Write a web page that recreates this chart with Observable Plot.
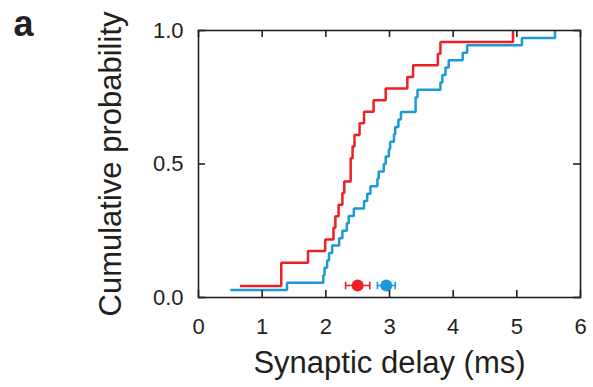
<!DOCTYPE html>
<html><head><meta charset="utf-8">
<script src="https://cdn.jsdelivr.net/npm/d3@7"></script>
<script src="https://cdn.jsdelivr.net/npm/@observablehq/plot@0.6"></script>
<style>html,body{margin:0;padding:0;background:#fff;} svg{display:block}</style>
</head><body><div id="chart"></div>
<script>
// ---- data ----
const panelLabel = "a";
const xTitle = "Synaptic delay (ms)";
const yTitle = "Cumulative probability";
const xTicks = [0, 1, 2, 3, 4, 5, 6];
const yTicks = [0, 0.5, 1];
const seriesNames = ["group 1", "group 2"];
const seriesColors = ["#ed1f27", "#1b9ad6"];
const redDelays = [0.65, 1.30, 1.30, 1.72, 1.99, 2.12, 2.15, 2.20, 2.26, 2.29, 2.39, 2.39,
  2.42, 2.45, 2.53, 2.60, 2.75, 2.94, 3.28, 3.37, 3.76, 3.80, 4.94];
const blueDelays = [0.50, 1.39, 1.96, 1.98, 2.02, 2.05, 2.10, 2.21, 2.26, 2.33, 2.36, 2.44,
  2.60, 2.65, 2.70, 2.81, 2.83, 2.91, 2.94, 2.99, 3.01, 3.07, 3.09, 3.14, 3.18, 3.41,
  3.41, 3.44, 3.80, 3.83, 3.88, 3.93, 4.15, 4.22, 5.08, 5.60];
const meanDelay = [2.50, 2.95];
const semDelay = [0.19, 0.14];
const markerLevel = 0.045;

// ---- build tables ----
function cdf(values, name) {
  const s = values.slice().sort((a, b) => a - b);
  return s.map((v, i) => ({series: name, x: v, p: (i + 1) / s.length}));
}
const steps = [...cdf(redDelays, seriesNames[0]), ...cdf(blueDelays, seriesNames[1])];
const summary = seriesNames.map((n, i) => ({series: n, mean: meanDelay[i], sem: semDelay[i], level: markerLevel}));

const W = 593, H = 387;
const mL = 198, mR = 13, mT = 30, mB = 90;
const plotW = W - mL - mR, plotH = H - mT - mB;
const ink = "#231f20";
const tickLen = 7;

const capSymbol = {
  draw(ctx, size) {
    const r = Math.sqrt(size / Math.PI);
    ctx.moveTo(0, -r);
    ctx.lineTo(0, r);
  }
};

const chart = Plot.plot({
  width: W, height: H,
  marginLeft: mL, marginRight: mR, marginTop: mT, marginBottom: mB,
  style: {fontFamily: "'Liberation Sans', Arial, Helvetica, sans-serif", color: ink, background: "#fff"},
  x: {domain: [0, 6]},
  y: {domain: [0, 1]},
  color: {type: "ordinal", domain: seriesNames, range: seriesColors},
  marks: [
    Plot.line(steps, {x: "x", y: "p", z: "series", stroke: "series", curve: "step-after", strokeWidth: 2.5, strokeLinejoin: "miter", strokeLinecap: "butt"}),
    Plot.ruleY(summary, {y: "level", x1: d => d.mean - d.sem, x2: d => d.mean + d.sem, stroke: "series", strokeWidth: 1.6}),
    Plot.dot(summary, {x: d => d.mean - d.sem, y: "level", symbol: capSymbol, r: 3.8, stroke: "series", strokeWidth: 1.6, fill: "none"}),
    Plot.dot(summary, {x: d => d.mean + d.sem, y: "level", symbol: capSymbol, r: 3.8, stroke: "series", strokeWidth: 1.6, fill: "none"}),
    Plot.dot(summary, {x: "mean", y: "level", r: 6, fill: "series", stroke: null}),
    Plot.frame({stroke: ink, strokeWidth: 1.6}),
    Plot.tickX(xTicks, {x: d => d, insetTop: plotH - tickLen, stroke: ink, strokeWidth: 1.6}),
    Plot.tickX(xTicks, {x: d => d, insetBottom: plotH - tickLen, stroke: ink, strokeWidth: 1.6}),
    Plot.tickY(yTicks, {y: d => d, insetRight: plotW - tickLen, stroke: ink, strokeWidth: 1.6}),
    Plot.tickY(yTicks, {y: d => d, insetLeft: plotW - tickLen, stroke: ink, strokeWidth: 1.6}),
    Plot.axisX(xTicks, {anchor: "bottom", tickSize: 0, tickPadding: 21, fontSize: 22, label: null, tickFormat: d3.format("d")}),
    Plot.axisY(yTicks, {anchor: "left", tickSize: 0, tickPadding: 15, fontSize: 22, label: null, tickFormat: d3.format(".1f")}),
    Plot.text([xTitle], {text: d => d, frameAnchor: "bottom", textAnchor: "middle", lineAnchor: "bottom", dy: 75, fontSize: 31, fill: ink}),
    Plot.text([yTitle], {text: d => d, frameAnchor: "left", textAnchor: "middle", lineAnchor: "bottom", rotate: -90, dx: -78, fontSize: 31, fill: ink}),
    Plot.text([panelLabel], {text: d => d, frameAnchor: "top-left", textAnchor: "start", lineAnchor: "bottom", dx: 13 - mL, dy: 35 - mT, fontSize: 36, fontWeight: "bold", fill: ink})
  ]
});
document.getElementById("chart").appendChild(chart);
</script>
</body></html>
